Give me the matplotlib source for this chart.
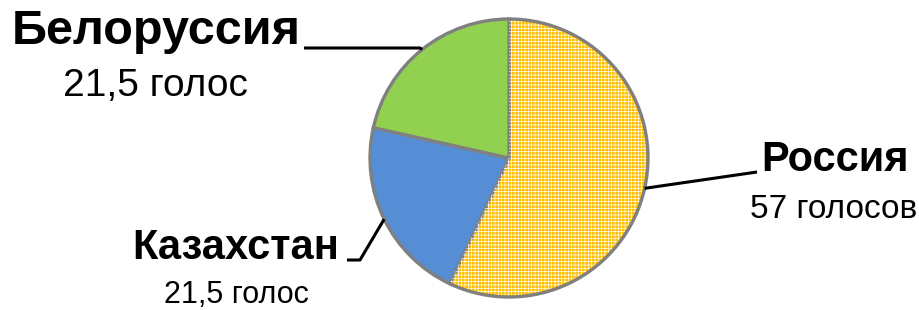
import numpy as np
import matplotlib.pyplot as plt
from matplotlib.patches import Wedge

plt.rcParams['font.family'] = ['Liberation Sans', 'DejaVu Sans']
plt.rcParams['hatch.linewidth'] = 0.45

countries = ['Россия', 'Казахстан', 'Белоруссия']
votes = [57, 21.5, 21.5]
vote_labels = ['57 голосов', '21,5 голос', '21,5 голос']
colors = ['#FFC000', '#558ED5', '#92D050']

# layout in pixel units (y up)
cx, cy, r = 509, 152, 139
name_pos = [(835, 150), (236, 62), (156, 279)]
sub_pos = [(834, 101), (236, 15), (155, 224)]
name_size = [30, 30, 35]
sub_size = [24, 22, 28]
# leader polylines: elbow points after the wedge edge point
leader_pts = [[(757, 138)], [(360, 50), (347, 50)], [(420, 262), (304, 262)]]

fig = plt.figure(figsize=(9.2, 3.1), dpi=100)
ax = fig.add_axes([0, 0, 1, 1])

wedges, _ = ax.pie(votes, colors=colors, startangle=90, counterclock=False,
                   center=(cx, cy), radius=r,
                   wedgeprops=dict(edgecolor='#808080', linewidth=2.4))
ax.set_xlim(0, 920)
ax.set_ylim(0, 310)
ax.set_aspect('equal')
ax.axis('off')

# dotted texture on Russia slice
w0 = wedges[0]
ax.add_patch(Wedge((cx, cy), r - 2, w0.theta1, w0.theta2, facecolor='none',
                   edgecolor='white', linewidth=0, hatch='+++++',
                   zorder=w0.get_zorder() + 0.1))

for i, w in enumerate(wedges):
    mid = np.radians((w.theta1 + w.theta2) / 2)
    px, py = cx + r * np.cos(mid), cy + r * np.sin(mid)
    xs = [px] + [p[0] for p in leader_pts[i]]
    ys = [py] + [p[1] for p in leader_pts[i]]
    ax.plot(xs, ys, color='black', lw=2.2, solid_capstyle='butt', zorder=1)
    ax.text(*name_pos[i], countries[i], fontsize=name_size[i], fontweight='bold',
            ha='center', va='center')
    ax.text(*sub_pos[i], vote_labels[i], fontsize=sub_size[i],
            ha='center', va='center')

fig.savefig('out.png', dpi=100)
